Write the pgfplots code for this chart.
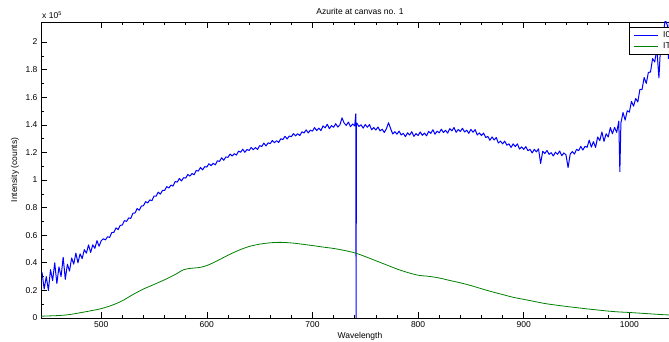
\documentclass[border=0pt]{standalone}
\usepackage{pgfplots}
\pgfplotsset{compat=1.18}
\usepackage{pgfplotstable}
\usepackage{fontspec}
\setmainfont{Liberation Sans}
\definecolor{mblue}{rgb}{0,0,1}
\definecolor{mgreen}{rgb}{0,0.5,0}

\pgfplotstableread{
x y
444 0.33
446 0.21
448 0.30
450 0.20
452 0.35
454 0.27
456 0.40
458 0.25
460 0.37
462 0.30
464 0.44
466 0.28
468 0.39
470 0.34
472 0.435
474 0.39
476 0.47
478 0.40
480 0.465
482 0.43
484 0.495
486 0.47
488 0.53
490 0.475
492 0.53
494 0.505
496 0.56
498 0.52
500 0.56
502 0.574
504 0.566
506 0.589
508 0.584
510 0.619
512 0.621
514 0.653
516 0.641
518 0.671
520 0.674
522 0.706
524 0.700
526 0.725
528 0.722
530 0.759
532 0.761
534 0.793
536 0.781
538 0.811
540 0.814
542 0.843
544 0.834
546 0.856
548 0.850
550 0.884
552 0.883
554 0.912
556 0.897
558 0.924
560 0.924
562 0.952
564 0.942
566 0.963
568 0.956
570 0.989
572 0.985
574 1.011
576 0.993
578 1.017
580 1.014
582 1.040
584 1.028
586 1.047
588 1.038
590 1.069
592 1.065
594 1.091
596 1.073
598 1.097
600 1.094
602 1.118
604 1.104
606 1.121
608 1.110
610 1.139
612 1.135
614 1.161
616 1.143
618 1.167
620 1.164
622 1.188
624 1.174
626 1.191
628 1.180
630 1.209
632 1.201
634 1.223
636 1.201
638 1.221
640 1.214
642 1.236
644 1.220
646 1.235
648 1.222
650 1.249
652 1.243
654 1.267
656 1.247
658 1.269
660 1.264
662 1.286
664 1.270
666 1.285
668 1.272
670 1.299
672 1.293
674 1.317
676 1.297
678 1.319
680 1.314
682 1.336
684 1.320
686 1.335
688 1.322
690 1.349
692 1.341
694 1.363
696 1.341
698 1.361
700 1.354
702 1.380
704 1.358
706 1.376
708 1.358
710 1.392
712 1.378
714 1.404
716 1.372
718 1.394
720 1.382
722 1.408
724 1.384
726 1.400
728 1.450
730 1.412
732 1.396
734 1.420
736 1.386
738 1.406
740 1.392
741 1.480
741.3 0.0
741.6 1.410
742 1.412
744 1.388
746 1.400
748 1.376
750 1.402
752 1.382
754 1.402
756 1.364
758 1.380
760 1.362
762 1.384
764 1.356
766 1.368
768 1.344
770 1.372
772 1.415
774 1.372
776 1.334
778 1.350
780 1.332
782 1.354
784 1.326
786 1.338
788 1.314
790 1.342
792 1.326
794 1.350
796 1.316
798 1.336
800 1.322
802 1.348
804 1.324
806 1.340
808 1.320
810 1.352
812 1.338
814 1.364
816 1.332
818 1.354
820 1.342
822 1.368
824 1.344
826 1.360
828 1.340
830 1.372
832 1.356
834 1.380
836 1.346
838 1.366
840 1.352
842 1.375
844 1.348
846 1.361
848 1.338
850 1.367
852 1.346
854 1.365
856 1.326
858 1.341
860 1.322
862 1.340
864 1.308
866 1.316
868 1.288
870 1.312
872 1.290
874 1.308
876 1.268
878 1.282
880 1.262
882 1.282
884 1.252
886 1.262
888 1.236
890 1.262
892 1.242
894 1.262
896 1.224
898 1.240
900 1.222
902 1.242
904 1.212
906 1.222
908 1.196
910 1.222
912 1.204
914 1.226
916 1.120
918 1.208
920 1.192
922 1.214
924 1.186
926 1.198
928 1.174
930 1.202
932 1.186
934 1.210
936 1.176
938 1.196
940 1.182
942 1.090
944 1.188
946 1.206
948 1.188
950 1.222
952 1.213
954 1.244
956 1.217
958 1.244
960 1.237
962 1.289
964 1.238
966 1.278
968 1.236
970 1.312
972 1.285
974 1.348
976 1.280
978 1.335
980 1.312
982 1.380
984 1.335
986 1.381
988 1.345
990 1.427
991 1.060
992 1.413
994 1.489
996 1.434
998 1.502
1000 1.492
1002 1.570
1004 1.535
1006 1.591
1008 1.565
1010 1.657
1012 1.655
1014 1.743
1016 1.700
1018 1.780
1020 1.782
1022 1.880
1024 1.855
1026 1.950
1028 1.740
1030 2.040
1032 2.060
1034 2.160
1036 2.120
1037 1.880
1038 2.200
1040 2.220
1042 2.300
1044 2.280
1046 2.360
}\IzeroTable

\pgfplotstableread{
x y
443 0.013
460 0.018
470 0.025
480 0.038
490 0.052
500 0.068
510 0.092
520 0.125
530 0.170
540 0.210
550 0.243
560 0.277
570 0.315
578 0.350
585 0.360
593 0.366
600 0.380
610 0.415
620 0.455
630 0.490
640 0.518
650 0.535
660 0.545
670 0.548
680 0.544
690 0.535
700 0.525
710 0.514
720 0.504
730 0.490
740 0.472
750 0.445
760 0.415
770 0.385
780 0.355
790 0.330
800 0.310
810 0.302
820 0.290
830 0.272
840 0.255
850 0.235
860 0.212
870 0.190
880 0.170
890 0.150
900 0.135
910 0.120
920 0.105
930 0.094
940 0.084
950 0.075
960 0.066
970 0.058
980 0.050
990 0.044
1000 0.040
1010 0.035
1020 0.030
1030 0.025
1040 0.021
1047 0.018
}\ITTable

\begin{document}
\begin{tikzpicture}
\begin{axis}[
  at={(41pt,24pt)}, anchor=south west,
  scale only axis, width=638pt, height=296pt,
  xmin=443, xmax=1047, ymin=0, ymax=2.145,
  xtick={500,600,700,800,900,1000},
  minor x tick num=4,
  ytick={0,0.2,0.4,0.6,0.8,1,1.2,1.4,1.6,1.8,2},
  minor y tick num=1,
  tick align=inside,
  major tick length=6pt, minor tick length=3pt,
  every tick/.style={black, line width=0.6pt},
  axis line style={black, line width=0.9pt},
  /pgf/number format/assume math mode=true,
  /pgf/number format/1000 sep={},
  font=\fontsize{8.5}{10}\selectfont,
  tick label style={font=\fontsize{8.5}{10}\selectfont},
  title={Azurite at canvas no. 1},
  title style={at={(axis description cs:0.5,1.017)}, anchor=center, font=\fontsize{8.5}{10}\selectfont},
  xlabel={Wavelength},
  xlabel style={at={(axis description cs:0.5,-0.0608)}, anchor=center},
  ylabel={Intensity (counts)},
  ylabel style={at={(axis description cs:-0.0408,0.5)}, anchor=center},
  legend style={at={(axis description cs:0.9216,0.9831)}, anchor=north west,
    draw=black, line width=0.6pt, fill=white, inner xsep=4pt, inner ysep=2pt,
    row sep=0pt, font=\fontsize{8.5}{10}\selectfont},
  legend cell align=left,
  legend image code/.code={\draw[line width=0.9pt, #1] (0pt,0pt) -- (24pt,0pt); \path (27pt,0pt);},
]
\addplot[mblue, line width=1pt, line join=round, forget plot] table[x=x,y=y] {\IzeroTable};
\addplot[mgreen, line width=0.8pt, line join=round, smooth, forget plot] table[x=x,y=y] {\ITTable};
\addlegendimage{draw=mblue, line width=0.9pt}
\addlegendentry{I0}
\addlegendimage{draw=mgreen, line width=0.9pt}
\addlegendentry{IT}
\end{axis}
\node[anchor=south west, inner sep=0pt, font=\fontsize{8.5}{10}\selectfont] at ([xshift=1pt,yshift=3pt]current axis.north west) {x 10\raisebox{3.5pt}{\fontsize{5.5}{6}\selectfont 5}};
\pgfresetboundingbox
\path[use as bounding box] (0pt,0pt) rectangle (669pt,342pt);
\end{tikzpicture}
\end{document}
